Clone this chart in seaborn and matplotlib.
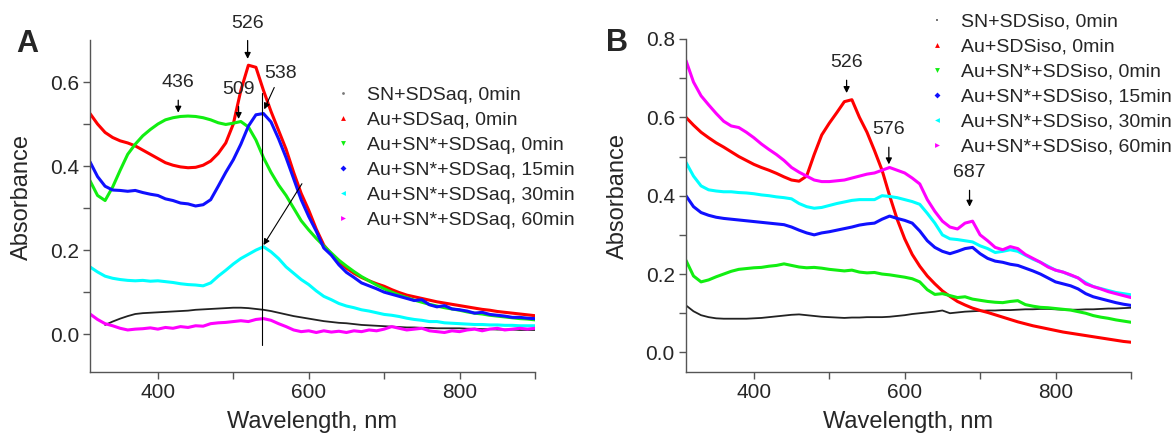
import numpy as np
import matplotlib
matplotlib.use("Agg")
import matplotlib.pyplot as plt
from matplotlib.lines import Line2D
import seaborn as sns

# wavelength grid (nm) shared by every spectrum
WAVELENGTH = list(range(310, 901, 10))
nan = np.nan

# ---- panel A : aqueous SDS ----
A_SN_0 = [nan, nan, 0.022, 0.030, 0.037, 0.043, 0.048, 0.050, 0.051, 0.052,
          0.053, 0.054, 0.055, 0.056, 0.058, 0.059, 0.060, 0.061, 0.062, 0.063,
          0.063, 0.062, 0.060, 0.058, 0.055, 0.051, 0.047, 0.043, 0.040, 0.037,
          0.034, 0.031, 0.029, 0.027, 0.026, 0.024, 0.022, 0.021, 0.020, 0.019,
          0.018, 0.017, 0.016, 0.016, 0.015, 0.015, 0.014, 0.014, 0.014, 0.014,
          0.013, 0.013, 0.012, 0.012, 0.011, 0.011, 0.011, 0.010, 0.010, 0.010]
A_AU_0 = [0.525, 0.500, 0.480, 0.468, 0.460, 0.455, 0.448, 0.438, 0.428, 0.418,
          0.408, 0.402, 0.398, 0.396, 0.397, 0.402, 0.412, 0.430, 0.455, 0.500,
          0.580, 0.640, 0.635, 0.580, 0.530, 0.485, 0.440, 0.385, 0.335, 0.295,
          0.250, 0.212, 0.190, 0.172, 0.157, 0.145, 0.135, 0.127, 0.120, 0.114,
          0.106, 0.099, 0.093, 0.089, 0.085, 0.081, 0.077, 0.074, 0.071, 0.068,
          0.065, 0.062, 0.059, 0.057, 0.054, 0.052, 0.050, 0.048, 0.046, 0.044]
A_AUSN_0 = [0.365, 0.330, 0.318, 0.350, 0.390, 0.428, 0.452, 0.472, 0.487, 0.500,
            0.510, 0.515, 0.518, 0.519, 0.518, 0.515, 0.510, 0.503, 0.499, 0.502,
            0.506, 0.493, 0.462, 0.420, 0.385, 0.355, 0.330, 0.300, 0.270, 0.248,
            0.228, 0.210, 0.193, 0.176, 0.162, 0.149, 0.137, 0.127, 0.117, 0.108,
            0.100, 0.093, 0.087, 0.081, 0.076, 0.071, 0.067, 0.063, 0.060, 0.057,
            0.053, 0.050, 0.048, 0.045, 0.043, 0.041, 0.039, 0.037, 0.036, 0.034]
A_AUSN_15 = [0.410, 0.375, 0.352, 0.343, 0.342, 0.340, 0.342, 0.337, 0.333, 0.330,
             0.322, 0.318, 0.312, 0.310, 0.305, 0.308, 0.320, 0.352, 0.385, 0.415,
             0.452, 0.495, 0.522, 0.525, 0.505, 0.465, 0.420, 0.370, 0.320, 0.280,
             0.245, 0.205, 0.188, 0.165, 0.147, 0.135, 0.122, 0.115, 0.108, 0.100,
             0.095, 0.090, 0.085, 0.080, 0.082, 0.070, 0.065, 0.068, 0.060, 0.058,
             0.055, 0.050, 0.052, 0.047, 0.045, 0.043, 0.040, 0.040, 0.038, 0.037]
A_AUSN_30 = [0.160, 0.148, 0.138, 0.133, 0.130, 0.128, 0.127, 0.128, 0.126, 0.127,
             0.125, 0.123, 0.120, 0.118, 0.117, 0.115, 0.122, 0.138, 0.152, 0.167,
             0.180, 0.190, 0.200, 0.208, 0.196, 0.180, 0.160, 0.145, 0.130, 0.118,
             0.103, 0.090, 0.082, 0.073, 0.067, 0.063, 0.058, 0.055, 0.051, 0.047,
             0.045, 0.042, 0.038, 0.035, 0.033, 0.030, 0.030, 0.027, 0.026, 0.025,
             0.024, 0.023, 0.023, 0.022, 0.022, 0.021, 0.021, 0.020, 0.020, 0.020]
A_AUSN_60 = [0.048, 0.035, 0.025, 0.020, 0.014, 0.010, 0.012, 0.013, 0.015, 0.012,
             0.016, 0.014, 0.018, 0.016, 0.020, 0.019, 0.025, 0.027, 0.028, 0.030,
             0.032, 0.030, 0.035, 0.037, 0.033, 0.025, 0.018, 0.010, 0.006, 0.008,
             0.004, 0.008, 0.005, 0.007, 0.004, 0.008, 0.006, 0.010, 0.008, 0.012,
             0.018, 0.014, 0.010, 0.012, 0.014, 0.008, 0.006, 0.004, 0.008, 0.006,
             0.010, 0.012, 0.008, 0.012, 0.014, 0.010, 0.012, 0.014, 0.012, 0.014]

# ---- panel B : SDS in isopropanol ----
B_SN_0 = [0.120, 0.105, 0.095, 0.090, 0.087, 0.086, 0.086, 0.086, 0.086, 0.087,
          0.088, 0.090, 0.092, 0.094, 0.096, 0.097, 0.095, 0.093, 0.091, 0.090,
          0.089, 0.088, 0.089, 0.089, 0.090, 0.090, 0.090, 0.091, 0.093, 0.095,
          0.098, 0.100, 0.102, 0.104, 0.107, 0.100, 0.102, 0.104, 0.105, 0.106,
          0.107, 0.107, 0.108, 0.108, 0.109, 0.110, 0.110, 0.111, 0.111, 0.110,
          0.109, 0.109, 0.109, 0.110, 0.110, 0.111, 0.112, 0.112, 0.113, 0.114]
B_AU_0 = [0.600, 0.580, 0.562, 0.548, 0.535, 0.524, 0.512, 0.500, 0.490, 0.480,
          0.472, 0.465, 0.457, 0.448, 0.440, 0.437, 0.450, 0.505, 0.555, 0.585,
          0.612, 0.640, 0.645, 0.600, 0.562, 0.515, 0.465, 0.400, 0.340, 0.290,
          0.250, 0.220, 0.195, 0.175, 0.157, 0.143, 0.130, 0.121, 0.113, 0.107,
          0.102, 0.096, 0.090, 0.084, 0.078, 0.073, 0.068, 0.064, 0.060, 0.056,
          0.052, 0.049, 0.046, 0.043, 0.040, 0.037, 0.034, 0.031, 0.028, 0.026]
B_AUSN_0 = [0.235, 0.195, 0.180, 0.185, 0.193, 0.200, 0.207, 0.212, 0.214, 0.216,
            0.217, 0.220, 0.222, 0.226, 0.222, 0.218, 0.216, 0.217, 0.215, 0.212,
            0.210, 0.208, 0.210, 0.205, 0.203, 0.204, 0.200, 0.198, 0.195, 0.192,
            0.188, 0.180, 0.160, 0.148, 0.150, 0.145, 0.140, 0.142, 0.136, 0.133,
            0.130, 0.128, 0.127, 0.130, 0.132, 0.122, 0.118, 0.115, 0.114, 0.112,
            0.110, 0.108, 0.104, 0.100, 0.094, 0.090, 0.087, 0.083, 0.080, 0.077]
B_AUSN_15 = [0.400, 0.372, 0.357, 0.350, 0.345, 0.342, 0.340, 0.338, 0.336, 0.334,
             0.332, 0.330, 0.328, 0.326, 0.320, 0.312, 0.305, 0.300, 0.305, 0.308,
             0.312, 0.316, 0.320, 0.325, 0.328, 0.330, 0.340, 0.348, 0.342, 0.337,
             0.330, 0.310, 0.285, 0.268, 0.258, 0.252, 0.258, 0.265, 0.268, 0.252,
             0.240, 0.233, 0.230, 0.225, 0.222, 0.215, 0.208, 0.200, 0.190, 0.180,
             0.175, 0.170, 0.162, 0.150, 0.142, 0.137, 0.132, 0.127, 0.123, 0.120]
B_AUSN_30 = [0.485, 0.450, 0.425, 0.415, 0.412, 0.410, 0.410, 0.408, 0.407, 0.405,
             0.402, 0.400, 0.397, 0.395, 0.392, 0.380, 0.372, 0.368, 0.370, 0.375,
             0.380, 0.384, 0.388, 0.390, 0.390, 0.390, 0.400, 0.398, 0.395, 0.390,
             0.385, 0.378, 0.355, 0.330, 0.300, 0.290, 0.288, 0.285, 0.282, 0.272,
             0.265, 0.255, 0.258, 0.262, 0.258, 0.248, 0.238, 0.230, 0.220, 0.210,
             0.205, 0.197, 0.190, 0.178, 0.168, 0.163, 0.158, 0.153, 0.150, 0.147]
B_AUSN_60 = [0.745, 0.690, 0.655, 0.632, 0.610, 0.590, 0.578, 0.574, 0.562, 0.548,
             0.532, 0.518, 0.505, 0.490, 0.472, 0.460, 0.450, 0.440, 0.436, 0.436,
             0.438, 0.440, 0.445, 0.450, 0.455, 0.458, 0.465, 0.472, 0.465, 0.458,
             0.445, 0.430, 0.390, 0.360, 0.335, 0.320, 0.315, 0.330, 0.335, 0.300,
             0.285, 0.268, 0.262, 0.270, 0.265, 0.250, 0.240, 0.230, 0.218, 0.210,
             0.205, 0.198, 0.190, 0.175, 0.168, 0.162, 0.155, 0.150, 0.145, 0.140]

LABELS_A = ["SN+SDSaq, 0min", "Au+SDSaq, 0min", "Au+SN*+SDSaq, 0min",
            "Au+SN*+SDSaq, 15min", "Au+SN*+SDSaq, 30min", "Au+SN*+SDSaq, 60min"]
LABELS_B = ["SN+SDSiso, 0min", "Au+SDSiso, 0min", "Au+SN*+SDSiso, 0min",
            "Au+SN*+SDSiso, 15min", "Au+SN*+SDSiso, 30min", "Au+SN*+SDSiso, 60min"]
SERIES_A = [A_SN_0, A_AU_0, A_AUSN_0, A_AUSN_15, A_AUSN_30, A_AUSN_60]
SERIES_B = [B_SN_0, B_AU_0, B_AUSN_0, B_AUSN_15, B_AUSN_30, B_AUSN_60]

COLORS = ["#222222", "#ff0000", "#11ee11", "#1010ff", "#00ffff", "#ff00ff"]
WIDTHS = [1.3, 2.2, 2.2, 2.2, 2.2, 2.2]
MARKERS_A = ["o", "^", "v", "D", "<", ">"]
MARKERS_B = ["s", "^", "v", "D", "<", ">"]

# peak labels: (text, arrow x, arrow tip y, text y)
PEAKS_A = [("436", 427, 0.527, 0.598), ("526", 519, 0.655, 0.740), ("509", 507, 0.512, 0.583)]
PEAKS_B = [("526", 523, 0.662, 0.739), ("576", 579, 0.480, 0.568), ("687", 686, 0.372, 0.458)]

sns.set_style("ticks")
plt.rcParams["font.family"] = ["Liberation Sans", "DejaVu Sans"]

fig = plt.figure(figsize=(11.75, 4.36), dpi=100)
axA = fig.add_axes([0.0766, 0.1468, 0.3787, 0.7615])
axB = fig.add_axes([0.5838, 0.1468, 0.3787, 0.7638])


def draw_panel(ax, series, ylim, yticks, yminor):
    for vals, c, w in zip(series, COLORS, WIDTHS):
        sns.lineplot(x=WAVELENGTH, y=vals, color=c, lw=w, ax=ax, legend=False)
    ax.set_xlim(310, 900)
    ax.set_ylim(*ylim)
    ax.set_xticks([400, 600, 800])
    ax.set_xticks([500, 700, 900], minor=True)
    ax.set_yticks(yticks)
    ax.set_yticks(yminor, minor=True)
    ax.yaxis.set_major_formatter(plt.FormatStrFormatter("%.1f"))
    sns.despine(ax=ax)
    for s in ["left", "bottom"]:
        ax.spines[s].set_color("#555555")
        ax.spines[s].set_linewidth(1.0)
    ax.tick_params(which="major", length=5, width=1, color="#555555", labelsize=15, pad=3)
    ax.tick_params(which="minor", length=5, width=1, color="#555555")
    ax.set_xlabel("Wavelength, nm", fontsize=17, va="center")
    ax.set_ylabel("Absorbance", fontsize=17, va="center")
    ax.xaxis.set_label_coords(0.5, -0.15)
    ax.yaxis.set_label_coords(-0.152, 0.527)


def draw_peaks(ax, peaks):
    for txt, x, tip, ty in peaks:
        ax.annotate(txt, xy=(x, tip), xytext=(x, ty), ha="center", va="center",
                    fontsize=14, annotation_clip=False,
                    arrowprops=dict(arrowstyle="-|>", color="k", lw=0.9,
                                    mutation_scale=9, shrinkA=4, shrinkB=0))


draw_panel(axA, SERIES_A, (-0.09, 0.70), [0.0, 0.2, 0.4, 0.6], [0.1, 0.3, 0.5])
draw_panel(axB, SERIES_B, (-0.05, 0.80), [0.0, 0.2, 0.4, 0.6, 0.8], [0.1, 0.3, 0.5, 0.7])
draw_peaks(axA, PEAKS_A)
draw_peaks(axB, PEAKS_B)

# 538 nm marker line and the two pointers of panel A
axA.plot([538, 538], [0.574, -0.026], color="k", lw=0.8)
axA.annotate("538", xy=(541, 0.535), xytext=(563, 0.621), ha="center", va="center",
             fontsize=14, arrowprops=dict(arrowstyle="-|>", color="k", lw=0.8,
                                          mutation_scale=9, shrinkA=2, shrinkB=0))
axA.annotate("", xy=(540, 0.212), xytext=(591, 0.358),
             arrowprops=dict(arrowstyle="-|>", color="k", lw=0.8, mutation_scale=9,
                             shrinkA=0, shrinkB=0))


def make_legend(labels, markers, anchor):
    sizes = [2.0, 3.5, 3.5, 3.0, 3.5, 3.5]
    handles = [Line2D([], [], ls="none", marker=m, color=c, markersize=s, markeredgewidth=0)
               for c, m, s in zip(COLORS, markers, sizes)]
    handles[0].set_color("#777777")
    fig.legend(handles, labels, loc="upper left", bbox_to_anchor=anchor, frameon=False,
               fontsize=14, handlelength=1.0, handletextpad=0.75, labelspacing=0.38,
               borderpad=0, borderaxespad=0)


make_legend(LABELS_A, MARKERS_A, (333 / 1175, 1 - 86 / 436))
make_legend(LABELS_B, MARKERS_B, (927 / 1175, 1 - 13 / 436))

fig.text(27 / 1175, 1 - 44 / 436, "A", fontsize=22, fontweight="bold", ha="center", va="center")
fig.text(617 / 1175, 1 - 43 / 436, "B", fontsize=22, fontweight="bold", ha="center", va="center")

fig.savefig("out.png", dpi=100)
